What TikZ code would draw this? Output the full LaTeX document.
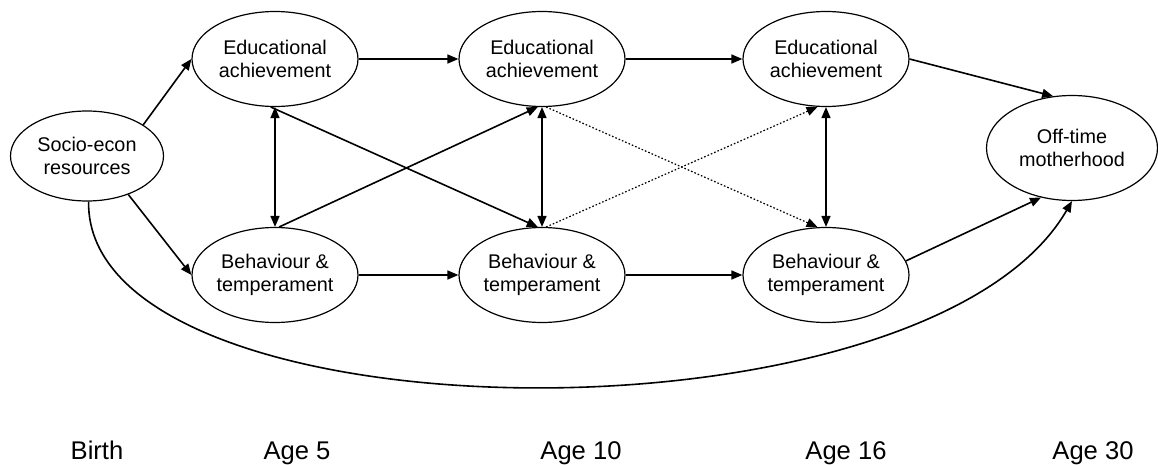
\documentclass[tikz,border=0pt]{standalone}
\usepackage{fontspec}
\setmainfont{Liberation Sans}
\usetikzlibrary{arrows.meta, shapes.geometric, positioning}

\begin{document}
\begin{tikzpicture}[x=0.5pt, y=-0.5pt,
    stage/.style={draw, ellipse, line width=0.6pt, inner sep=0pt,
                  minimum width=83pt, minimum height=47.5pt, align=center,
                  font=\fontsize{9.9}{11.5}\selectfont},
    link/.style={line width=0.8pt, -{Triangle[length=5.5pt,width=4.5pt]}},
    twoway/.style={line width=0.8pt,
                   {Triangle[length=5.5pt,width=4.5pt]}-{Triangle[length=5.5pt,width=4.5pt]}},
    weak/.style={link, densely dotted, line width=0.6pt},
    agelabel/.style={anchor=base, font=\fontsize{12.8}{14}\selectfont}]
  \useasboundingbox (0,0) rectangle (1158,465);

  % nodes
  \node[stage, minimum width=76.5pt, minimum height=45pt] (socio) at (87,156) {Socio-econ\\resources};
  \node[stage] (edufive)    at (275,59) {Educational\\achievement};
  \node[stage] (eduten)     at (542,59) {Educational\\achievement};
  \node[stage] (edusixteen) at (826,59) {Educational\\achievement};
  \node[stage] (behfive)    at (275,275) {Behaviour \&\\temperament};
  \node[stage] (behten)     at (542,275) {Behaviour \&\\temperament};
  \node[stage] (behsixteen) at (826,275) {Behaviour \&\\temperament};
  \node[stage, minimum width=85.5pt, minimum height=52.5pt] (offtime) at (1072,148) {Off-time\\motherhood};

  % time axis
  \node[agelabel] (lblbirth)  at (97,459)   {Birth};
  \node[agelabel] (lblfive)   at (297,459)  {Age 5};
  \node[agelabel] (lblten)    at (581,459)  {Age 10};
  \node[agelabel] (lblsixteen) at (846,459) {Age 16};
  \node[agelabel] (lblthirty) at (1093,459) {Age 30};

  % paths
  \draw[link] (socio.29) -- (edufive.west);
  \draw[link] (socio.-43) -- (behfive.west);
  \draw[link] (edufive) -- (eduten);
  \draw[link] (eduten) -- (edusixteen);
  \draw[link] (behfive) -- (behten);
  \draw[link] (behten) -- (behsixteen);
  \draw[twoway] (edufive) -- (behfive);
  \draw[twoway] (eduten) -- (behten);
  \draw[twoway] (edusixteen) -- (behsixteen);
  \draw[link] (edufive.-95) -- (behten.95);
  \draw[link] (behfive.85) -- (eduten.-95);
  \draw[weak] (eduten.-85) -- (behsixteen.100);
  \draw[weak] (behten.85) -- (edusixteen.-100);
  \draw[link] (edusixteen.east) -- (offtime.110);
  \draw[link] (behsixteen.10) -- (offtime.238);
  \draw[link] (socio.-88) .. controls (85,442) and (925,455) .. (offtime.south);
\end{tikzpicture}
\end{document}
